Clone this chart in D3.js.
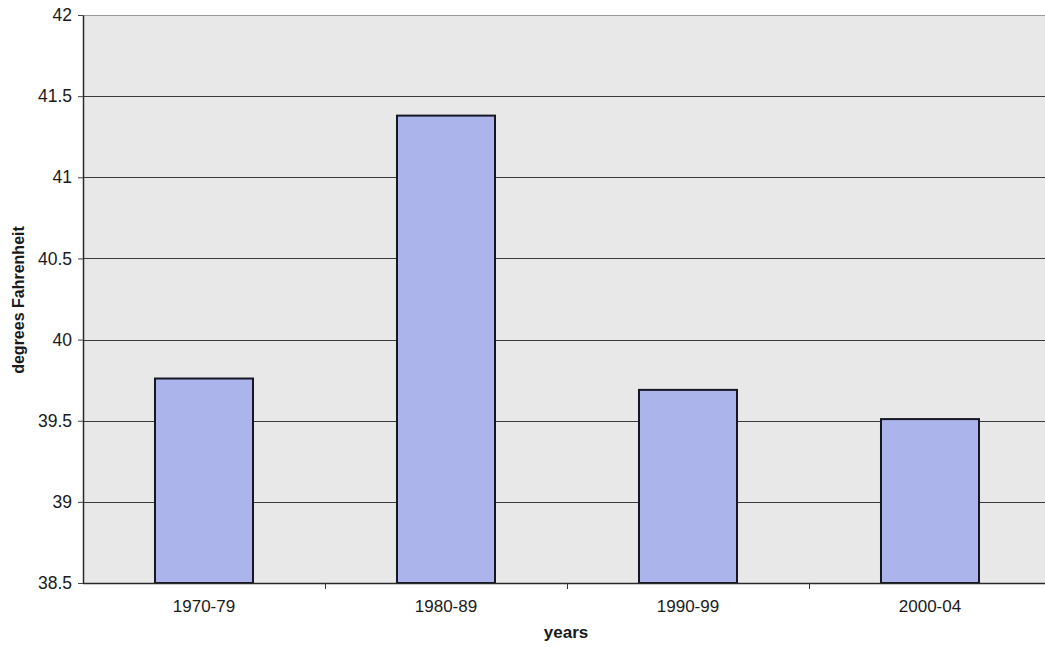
<!DOCTYPE html>
<html>
<head>
<meta charset="utf-8">
<script src="https://cdn.jsdelivr.net/npm/d3@7"></script>
<style>
  html, body { margin: 0; padding: 0; background: #fff; }
  svg text { font-family: "Liberation Sans", Arial, sans-serif; fill: #1a1a1a; }
</style>
</head>
<body>
<svg id="chart" width="1045" height="647"></svg>
<script>
// Average temperature by period
const periods = ["1970-79", "1980-89", "1990-99", "2000-04"];
const temps = [39.76, 41.38, 39.69, 39.51];
const yTicks = [38.5, 39, 39.5, 40, 40.5, 41, 41.5, 42];

const svg = d3.select("#chart");
const margin = { top: 15, left: 83, bottom: 64 };
const plotW = 968; // four bands of ~242px, last one runs past the edge
const innerH = 647 - margin.top - margin.bottom;

const x = d3.scaleBand().domain(periods).range([0, plotW]).paddingInner(0.595).paddingOuter(0.2975);
const y = d3.scaleLinear().domain([38.5, 42]).range([innerH, 0]);

const g = svg.append("g").attr("transform", `translate(${margin.left},${margin.top})`);

// plot background
g.append("rect").attr("x", 0).attr("y", 0).attr("width", plotW).attr("height", innerH)
  .attr("fill", "#e8e8e8");

// horizontal grid lines
g.append("g").selectAll("line").data(yTicks.slice(1)).join("line")
  .attr("x1", 0).attr("x2", plotW)
  .attr("y1", d => Math.round(y(d)) + 0.5).attr("y2", d => Math.round(y(d)) + 0.5)
  .attr("stroke", d => d === 42 ? "#9a9a9a" : "#3a3a3a").attr("stroke-width", 1);

// bars
g.append("g").selectAll("rect").data(temps).join("rect")
  .attr("x", (d, i) => x(periods[i]))
  .attr("y", d => y(d))
  .attr("width", x.bandwidth())
  .attr("height", d => innerH - y(d))
  .attr("fill", "#abb4eb")
  .attr("stroke", "#161625").attr("stroke-width", 2);

// y axis
const yAxis = g.append("g").call(d3.axisLeft(y).tickValues(yTicks).tickSize(5).tickSizeOuter(0).tickPadding(6).tickFormat(d3.format("")));
yAxis.select(".domain").attr("stroke", "#2a2a2a").attr("stroke-width", 1.5);
yAxis.selectAll(".tick line").attr("stroke", "#444");
yAxis.selectAll("text").attr("font-size", 17.5).style("font-family", "Liberation Sans, Arial, sans-serif").attr("fill", "#1a1a1a");

// x axis: ticks sit between categories
const xAxisG = g.append("g").attr("transform", `translate(0,${innerH})`);
xAxisG.append("line").attr("x1", 0).attr("x2", plotW).attr("y1", 0.5).attr("y2", 0.5)
  .attr("stroke", "#2a2a2a").attr("stroke-width", 1.5);
const step = x.step();
xAxisG.selectAll("line.tk").data(periods.slice(1)).join("line").attr("class", "tk")
  .attr("x1", (d, i) => Math.round((i + 1) * step) + 0.5)
  .attr("x2", (d, i) => Math.round((i + 1) * step) + 0.5)
  .attr("y1", 0).attr("y2", 6).attr("stroke", "#333");
xAxisG.selectAll("text").data(periods).join("text")
  .attr("x", d => x(d) + x.bandwidth() / 2)
  .attr("y", 29)
  .attr("text-anchor", "middle")
  .attr("font-size", 17)
  .text(d => d);

// axis titles
svg.append("text").attr("x", 566).attr("y", 638).attr("text-anchor", "middle")
  .attr("font-size", 17).attr("font-weight", "bold").text("years");
svg.append("text").attr("transform", "translate(24,300) rotate(-90)").attr("text-anchor", "middle")
  .attr("font-size", 16).attr("font-weight", "bold").text("degrees Fahrenheit");
</script>
</body>
</html>
